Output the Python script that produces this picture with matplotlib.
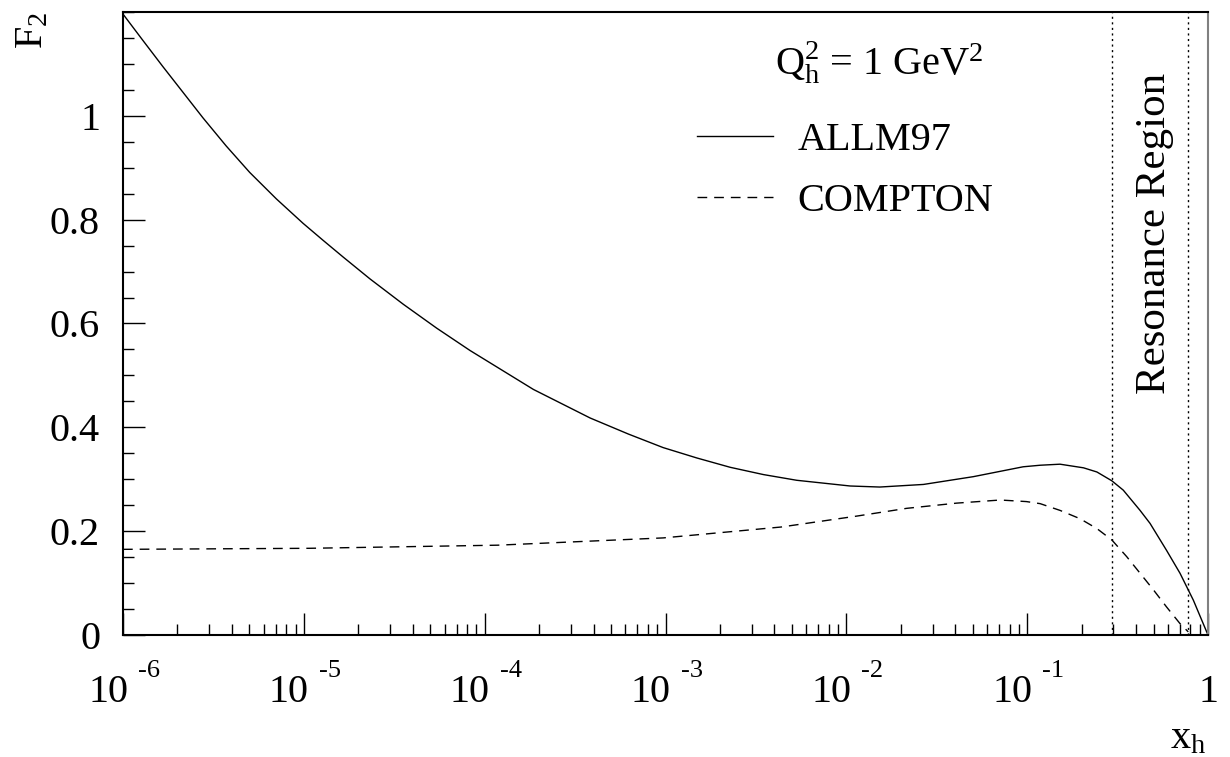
import matplotlib
matplotlib.use("Agg")
import matplotlib.pyplot as plt
import matplotlib.transforms as mtransforms
from matplotlib.ticker import FixedLocator, NullFormatter, MultipleLocator

plt.rcParams['font.family'] = ['Liberation Serif', 'DejaVu Serif']
plt.rcParams['mathtext.fontset'] = 'custom'
plt.rcParams['mathtext.rm'] = 'Liberation Serif'
plt.rcParams['mathtext.it'] = 'Liberation Serif:italic'

# ---- data ----
x_allm = [1e-6, 1.29e-6, 1.66e-6, 2.15e-6, 2.77e-6, 3.72e-6, 5.02e-6, 7.05e-6,
          9.9e-6, 1.28e-5, 1.65e-5, 2.32e-5, 3.55e-5, 5.43e-5, 8.3e-5, 1.86e-4,
          3.83e-4, 6.24e-4, 9.7e-4, 1.49e-3, 2.28e-3, 3.48e-3, 5.32e-3, 1.05e-2,
          1.53e-2, 2.67e-2, 5.04e-2, 9.5e-2, 0.118, 0.152, 0.205, 0.243,
          0.294, 0.340, 0.421, 0.478, 0.590, 0.700, 0.830, 1.0]
f2_allm = [1.196, 1.145, 1.095, 1.045, 0.996, 0.942, 0.891, 0.840,
           0.793, 0.760, 0.728, 0.686, 0.637, 0.591, 0.548, 0.473,
           0.418, 0.387, 0.361, 0.341, 0.323, 0.309, 0.298, 0.287,
           0.285, 0.290, 0.305, 0.324, 0.327, 0.329, 0.322, 0.314,
           0.297, 0.279, 0.240, 0.215, 0.163, 0.119, 0.067, 0.0]

x_compton = [1e-6, 1.07e-5, 1.18e-4, 9.7e-4, 4.36e-3, 1.14e-2, 2.16e-2, 4.07e-2,
             7.1e-2, 0.099, 0.118, 0.152, 0.196, 0.243, 0.294, 0.355,
             0.421, 0.499, 0.590, 0.700, 0.778]
f2_compton = [0.165, 0.167, 0.173, 0.187, 0.208, 0.229, 0.244, 0.254,
              0.260, 0.257, 0.253, 0.240, 0.224, 0.205, 0.183, 0.151,
              0.119, 0.087, 0.054, 0.022, 0.006]

resonance_bounds = [0.294, 0.779]

x_major = [1e-6, 1e-5, 1e-4, 1e-3, 1e-2, 1e-1, 1.0]
x_major_exp = ["-6", "-5", "-4", "-3", "-2", "-1", None]
y_major = [0, 0.2, 0.4, 0.6, 0.8, 1.0]
y_major_labels = ["0", "0.2", "0.4", "0.6", "0.8", "1"]

FS = 29

fig = plt.figure(figsize=(12.30, 7.57), dpi=100)
ax = fig.add_axes([123/1230, 1 - 635/757, (1208-123)/1230, (635-12)/757])

ax.plot(x_allm, f2_allm, color='black', lw=1.0, label='ALLM97')
ax.plot(x_compton, f2_compton, color='black', lw=1.0, dashes=(7, 5), label='COMPTON')
for xb in resonance_bounds:
    ax.axvline(xb, color='black', lw=1.0, dashes=(1.5, 2.5))

ax.set_xscale('log')
ax.set_xlim(1e-6, 1.0)
ax.set_ylim(0, 1.2)

# ticks
ax.xaxis.set_major_locator(FixedLocator(x_major))
minors = [m * 10.0**e for e in range(-6, 0) for m in range(2, 10)]
ax.xaxis.set_minor_locator(FixedLocator(minors))
ax.xaxis.set_major_formatter(NullFormatter())
ax.xaxis.set_minor_formatter(NullFormatter())
ax.yaxis.set_major_locator(FixedLocator(y_major))
ax.set_yticklabels(y_major_labels)
ax.yaxis.set_minor_locator(MultipleLocator(0.05))
ax.tick_params(axis='both', which='both', direction='in', top=False, right=False, width=1.0)
ax.tick_params(axis='both', which='major', length=16)
ax.tick_params(axis='both', which='minor', length=8)
ax.tick_params(axis='y', which='major', labelsize=FS, pad=16.5)

for s in ['left', 'bottom', 'top']:
    ax.spines[s].set_linewidth(1.5)
    ax.spines[s].set_color('black')
ax.spines['right'].set_linewidth(1.5)
ax.spines['right'].set_color('#808080')

# ROOT-style x tick labels
xt = ax.get_xaxis_transform()
for xv, ex in zip(x_major, x_major_exp):
    if ex is None:
        tr = mtransforms.offset_copy(xt, fig=fig, x=0, y=-67, units='dots')
        ax.text(xv, 0, "1", transform=tr, ha='center', va='baseline', fontsize=FS, clip_on=False)
    else:
        tr = mtransforms.offset_copy(xt, fig=fig, x=5, y=-67, units='dots')
        ax.text(xv, 0, "10", transform=tr, ha='right', va='baseline', fontsize=FS, clip_on=False)
        tr2 = mtransforms.offset_copy(xt, fig=fig, x=15, y=-42, units='dots')
        ax.text(xv, 0, ex, transform=tr2, ha='left', va='baseline', fontsize=19, clip_on=False)

# axis titles
fig.text(1206/1230, 1 - 748/757, r"x$_\mathregular{h}$", ha='right', va='baseline', fontsize=FS)
fig.text(33/1230, 1 - 30/757, r"F$_\mathregular{2}$", ha='center', va='center', fontsize=FS, rotation=90)

# annotations
ax.text(0.601, 0.899, r"$\mathregular{Q_h^2}$ = 1 GeV$^\mathregular{2}$", transform=ax.transAxes,
        ha='left', va='baseline', fontsize=FS)
ax.text(0.51, 0.644, "Resonance Region", transform=ax.get_xaxis_transform(),
        ha='center', va='center', rotation=90, fontsize=31)

ax.legend(loc='upper left', bbox_to_anchor=(0.529, 0.823), frameon=False,
          fontsize=FS, handlelength=1.9, handletextpad=0.6, labelspacing=0.575,
          borderpad=0, borderaxespad=0)

fig.savefig("out.png", dpi=100)
